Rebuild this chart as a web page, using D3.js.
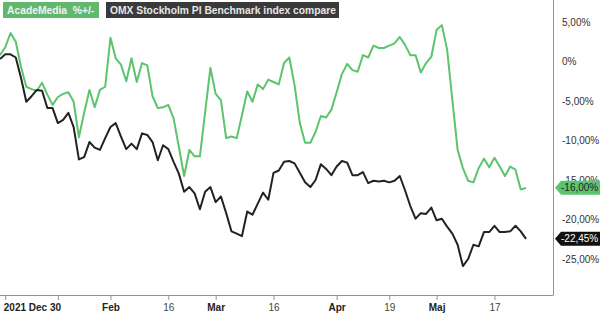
<!DOCTYPE html>
<html>
<head>
<meta charset="utf-8">
<script src="https://cdn.jsdelivr.net/npm/d3@7"></script>
<style>
  body { margin: 0; background: #fff; }
  svg { display: block; font-family: "Liberation Sans", Arial, sans-serif; }
</style>
</head>
<body>
<div id="chart"></div>
<script>
// trading day index (0 = 29 Dec 2021 ... 100 = 25 May 2022), values in % change
const acadeMedia = [
  0.8, 1.8, 3.6, 2.5, -0.7, -3.2, -3.5, -3.7, -2.7, -4.2,
  -5.5, -4.5, -4.1, -3.9, -5.1, -9.6, -6.5, -3.6, -5.8, -3.6,
  -3.2, 3.0, 0.4, -0.4, -2.5, 0.4, -2.6, -0.2, -0.5, -4.4,
  -5.9, -5.8, -5.5, -7.2, -10.8, -14.5, -11.2, -12.0, -12.0, -6.4,
  -0.8, -4.1, -4.9, -9.7, -9.5, -9.7, -6.8, -3.8, -5.1, -2.9,
  -3.5, -2.3, -2.6, -2.9, -0.2, 0.5, -3.0, -7.8, -10.3, -10.3,
  -8.9, -6.9, -7.1, -6.1, -3.9, -1.6, -0.3, -1.1, -1.3, 0.8,
  0.5, 2.0, 1.7, 1.7, 2.0, 2.3, 3.1, 2.1, 0.8, 0.8,
  -1.4, -0.2, 0.6, 4.0, 4.6, 1.5, -4.9, -11.2, -13.5, -15.1,
  -15.3, -13.5, -12.3, -13.4, -12.2, -13.3, -14.5, -13.3, -13.7, -16.2,
  -16.0
];
const omxPI = [
  0.3, 0.9, 0.9, 0.5, -2.1, -5.1, -4.4, -3.6, -3.7, -5.9,
  -5.9, -7.8, -7.4, -6.5, -8.3, -12.4, -12.1, -10.2, -10.9, -11.2,
  -9.7, -8.3, -7.8, -9.5, -11.1, -10.4, -11.1, -9.1, -9.3, -10.2,
  -12.5, -10.6, -11.1, -12.7, -14.2, -16.5, -15.9, -16.7, -18.7, -16.5,
  -15.9, -17.8, -17.1, -19.2, -21.5, -21.8, -22.1, -19.0, -19.4, -18.0,
  -16.6, -17.5, -14.1, -13.8, -12.7, -12.6, -12.9, -14.1, -15.3, -15.9,
  -15.0, -13.0, -13.6, -14.4, -13.3, -12.6, -12.8, -14.4, -14.4, -14.0,
  -15.4, -15.1, -15.2, -15.1, -15.3, -15.1, -14.5, -16.3, -18.3, -19.9,
  -19.2, -19.3, -18.5, -20.1, -19.9, -20.9, -21.8, -23.2, -25.9, -25.0,
  -23.2, -23.4, -21.6, -21.6, -20.8, -21.6, -21.6, -21.5, -20.8, -21.5,
  -22.45
];
const xTickIdx = [1, 11, 21, 32, 41, 52, 64, 74, 83, 94];
const xTickLabels = ["2021 Dec 30", "", "Feb", "16", "Mar", "16", "Apr", "19", "Maj", "17"];
const xTickBold = [true, false, true, false, true, false, true, false, true, false];
const yTicks = [5, 0, -5, -10, -15, -20, -25];
const seriesNames = ["AcadeMedia  %+/-", "OMX Stockholm PI Benchmark index compare"];
const lastLabels = ["-16,00%", "-22,45%"];

const W = 600, H = 313;
const plotR = 553, plotB = 295;
const green = "#5cc46c", dark = "#222";
const axisCol = "#6f9dc0";
const fontFam = "Liberation Sans, Arial, sans-serif";

const svg = d3.select("#chart").append("svg")
  .attr("width", W)
  .attr("height", H);

const x = d3.scaleLinear().domain([0, 105.13]).range([0, plotR]);
const y = d3.scaleLinear().domain([-29.56, 7.78]).range([plotB, 0]);

// y labels on the right
const fmtPct = v => v === 0 ? "0%" : d3.format(".2f")(v).replace(".", ",").replace("−", "-") + "%";
const yAxis = svg.append("g")
  .attr("transform", `translate(${plotR},0)`)
  .call(d3.axisRight(y).tickValues(yTicks).tickSize(0).tickPadding(9).tickFormat(fmtPct));
yAxis.select(".domain").attr("stroke", axisCol).attr("d", `M0.5,0V${plotB}`);
yAxis.selectAll("text").attr("font-size", 10).attr("fill", "#333")
  .attr("font-family", fontFam);

// bottom axis
const xAxis = svg.append("g")
  .attr("transform", `translate(0,${plotB})`)
  .call(d3.axisBottom(x).tickValues(xTickIdx).tickSize(5).tickPadding(4)
    .tickFormat((d, i) => xTickLabels[i]));
xAxis.select(".domain").attr("stroke", axisCol).attr("d", `M0,0.5H${plotR + 0.5}`);
xAxis.selectAll(".tick line").attr("stroke", axisCol);
xAxis.selectAll("text")
  .attr("font-size", 10)
  .attr("font-family", fontFam)
  .attr("font-weight", (d, i) => xTickBold[i] ? "bold" : "normal")
  .attr("fill", (d, i) => xTickBold[i] ? "#222" : "#444");
xAxis.selectAll("text").filter((d, i) => i === 0)
  .attr("text-anchor", "start").attr("dx", -2);

// lines
const line = d3.line().x((d, i) => x(i)).y(d => y(d));
svg.append("path").datum(acadeMedia)
  .attr("d", line).attr("fill", "none")
  .attr("stroke", green).attr("stroke-width", 2).attr("stroke-linejoin", "round");
svg.append("path").datum(omxPI)
  .attr("d", line).attr("fill", "none")
  .attr("stroke", dark).attr("stroke-width", 2).attr("stroke-linejoin", "round");

// last value tags
function tag(v, label, fill, textCol) {
  const ty = y(v);
  svg.append("path")
    .attr("d", `M${plotR + 2},${ty} L${plotR + 8},${ty - 7} H${W} V${ty + 7} H${plotR + 8} Z`)
    .attr("fill", fill);
  svg.append("text")
    .attr("x", plotR + 8).attr("y", ty + 3.5)
    .attr("font-size", 10).attr("fill", textCol)
    .text(label);
}
tag(acadeMedia[acadeMedia.length - 1], lastLabels[0], green, "#222");
tag(omxPI[omxPI.length - 1], lastLabels[1], "#111", "#fff");

// legend boxes
const leg = [
  { x: 3, w: 96, fill: "#5fb86e", text: "#f2f2f2" },
  { x: 106, w: 233, fill: "#3a3a3a", text: "#e6e6e6" }
];
leg.forEach((l, i) => {
  svg.append("rect").attr("x", l.x).attr("y", 2).attr("width", l.w).attr("height", 16).attr("fill", l.fill);
  svg.append("text").attr("x", l.x + 4).attr("y", 14)
    .attr("font-size", 10.3).attr("font-weight", "bold").attr("fill", l.text)
    .style("white-space", "pre")
    .text(seriesNames[i]);
});
</script>
</body>
</html>
